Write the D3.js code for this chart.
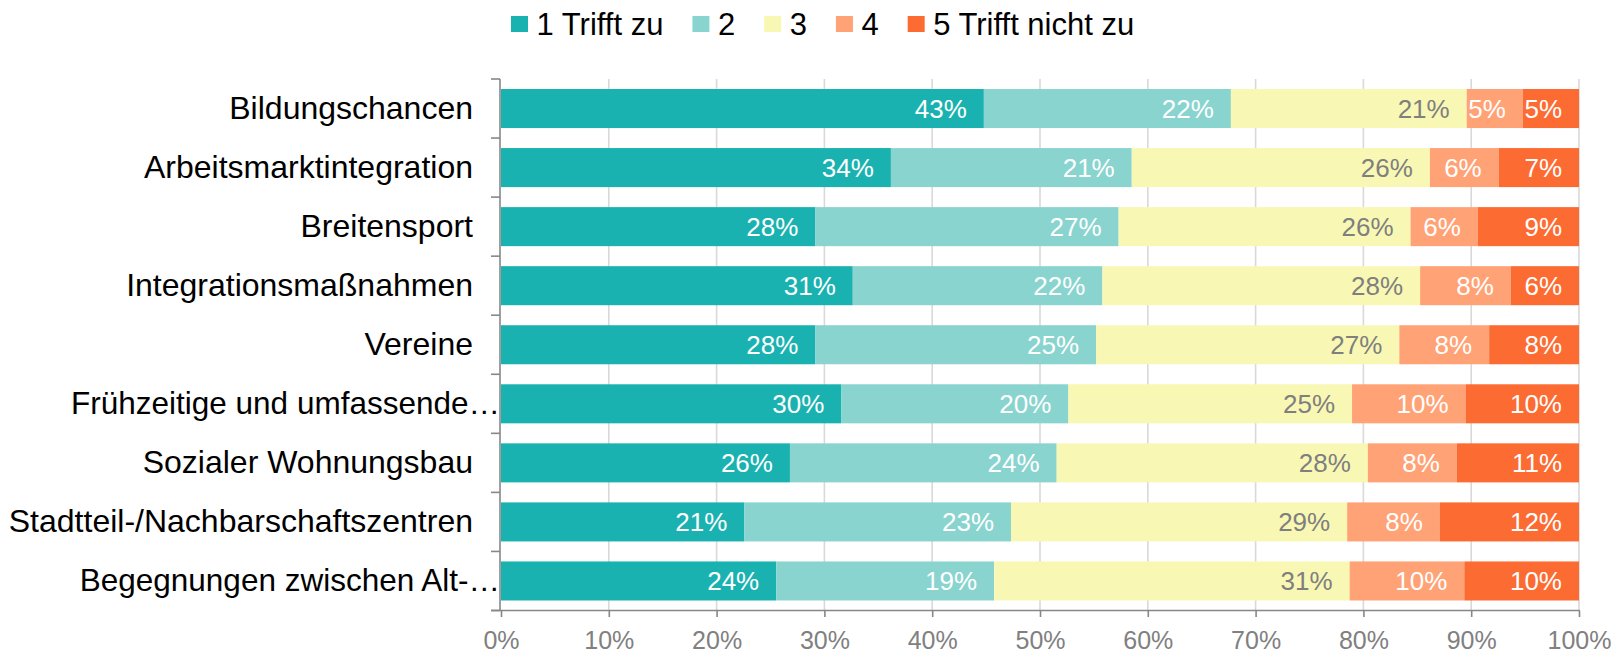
<!DOCTYPE html>
<html>
<head>
<meta charset="utf-8">
<script src="https://cdn.jsdelivr.net/npm/d3@7"></script>
<style>
  html, body { margin: 0; padding: 0; background: #fff; }
  svg { display: block; font-family: "Liberation Sans", Arial, sans-serif; }
</style>
</head>
<body>
<svg id="chart" width="1616" height="654"></svg>
<script>
// ---- data ----
const categories = [
  "Bildungschancen",
  "Arbeitsmarktintegration",
  "Breitensport",
  "Integrationsmaßnahmen",
  "Vereine",
  "Frühzeitige und umfassende…",
  "Sozialer Wohnungsbau",
  "Stadtteil-/Nachbarschaftszentren",
  "Begegnungen zwischen Alt-…"
];
const seriesNames = ["1 Trifft zu", "2", "3", "4", "5 Trifft nicht zu"];
const s1 = [43, 34, 28, 31, 28, 30, 26, 21, 24];
const s2 = [22, 21, 27, 22, 25, 20, 24, 23, 19];
const s3 = [21, 26, 26, 28, 27, 25, 28, 29, 31];
const s4 = [5, 6, 6, 8, 8, 10, 8, 8, 10];
const s5 = [5, 7, 9, 6, 8, 10, 11, 12, 10];
const xTickValues = [0, 0.1, 0.2, 0.3, 0.4, 0.5, 0.6, 0.7, 0.8, 0.9, 1];

const colors = ["#1AB2B0", "#89D4CF", "#F8F8B4", "#FFA276", "#FB6B32"];
const labelColors = ["#ffffff", "#ffffff", "#7f7f7f", "#ffffff", "#ffffff"];

const allSeries = [s1, s2, s3, s4, s5];
const rows = categories.map((c, i) => {
  const r = { cat: c };
  seriesNames.forEach((s, k) => r[s] = allSeries[k][i]);
  return r;
});

const stack = d3.stack().keys(seriesNames).offset(d3.stackOffsetExpand);
const stacked = stack(rows);

const svg = d3.select("#chart");
const pLeft = 501, pRight = 1579, pTop = 79, pBottom = 610.5;

const x = d3.scaleLinear().domain([0, 1]).range([pLeft, pRight]);
const y = d3.scaleBand().domain(categories).range([pTop, pBottom])
  .paddingInner(0.339).paddingOuter(0.1695);

const axisColor = "#878787";

// gridlines
svg.append("g").selectAll("line")
  .data(xTickValues.filter(d => d > 0))
  .join("line")
  .attr("x1", d => x(d)).attr("x2", d => x(d))
  .attr("y1", pTop).attr("y2", pBottom)
  .attr("stroke", "#d9d9d9").attr("stroke-width", 1.6);

// bars
const gSeries = svg.append("g").selectAll("g")
  .data(stacked).join("g")
  .attr("fill", (d, i) => colors[i]);

gSeries.selectAll("rect")
  .data(d => d.map(v => ({ v, key: d.key })))
  .join("rect")
  .attr("x", d => x(d.v[0]))
  .attr("width", d => x(d.v[1]) - x(d.v[0]))
  .attr("y", d => y(d.v.data.cat))
  .attr("height", y.bandwidth());

// data labels
const gLabels = svg.append("g");
stacked.forEach((ser, k) => {
  gLabels.append("g").selectAll("text")
    .data(ser)
    .join("text")
    .attr("x", d => x(d[1]) - 17)
    .attr("y", d => y(d.data.cat) + y.bandwidth() / 2 + 9.3)
    .attr("text-anchor", "end")
    .attr("font-size", 26)
    .attr("fill", labelColors[k])
    .text(d => d.data[ser.key] + "%");
});

// x axis
const xAxis = d3.axisBottom(x)
  .tickValues(xTickValues)
  .tickFormat(d3.format(".0%"))
  .tickSize(6.5)
  .tickPadding(14.5);
const gx = svg.append("g").attr("transform", `translate(0,${pBottom})`).call(xAxis);
gx.select(".domain").remove();
gx.selectAll(".tick line").attr("stroke", axisColor).attr("stroke-width", 1.6);
gx.selectAll(".tick text").attr("font-size", 25).attr("fill", "#808080")
  .attr("font-family", '"Liberation Sans", Arial, sans-serif');
svg.append("line")
  .attr("x1", pLeft - 10).attr("x2", pRight + 0.8)
  .attr("y1", pBottom).attr("y2", pBottom)
  .attr("stroke", axisColor).attr("stroke-width", 1.6);

// y axis
svg.append("line")
  .attr("x1", pLeft - 1).attr("x2", pLeft - 1)
  .attr("y1", pTop).attr("y2", pBottom)
  .attr("stroke", axisColor).attr("stroke-width", 1.6);
const boundaries = d3.range(categories.length + 1).map(i => pTop + i * y.step());
svg.append("g").selectAll("line")
  .data(boundaries).join("line")
  .attr("x1", pLeft - 10).attr("x2", pLeft - 1)
  .attr("y1", d => d).attr("y2", d => d)
  .attr("stroke", axisColor).attr("stroke-width", 1.6);

// category labels
const catFont = 32;
svg.append("g").selectAll("text")
  .data(categories).join("text")
  .attr("x", d => d.endsWith("…") ? pLeft - 1 : pLeft - 28)
  .attr("y", d => y(d) + y.bandwidth() / 2 + 10)
  .attr("text-anchor", "end")
  .attr("font-size", d => d.endsWith("…") ? 31.5 : catFont)
  .attr("fill", "#000")
  .text(d => d);

// legend
const legend = svg.append("g");
let lx = 511;
seriesNames.forEach((name, i) => {
  legend.append("rect")
    .attr("x", lx).attr("y", 16).attr("width", 17).attr("height", 16)
    .attr("fill", colors[i]);
  const t = legend.append("text")
    .attr("x", lx + 25.5).attr("y", 34.5)
    .attr("font-size", 31)
    .attr("fill", "#000")
    .text(name);
  lx = lx + 25.5 + t.node().getComputedTextLength() + 29;
});
</script>
</body>
</html>
